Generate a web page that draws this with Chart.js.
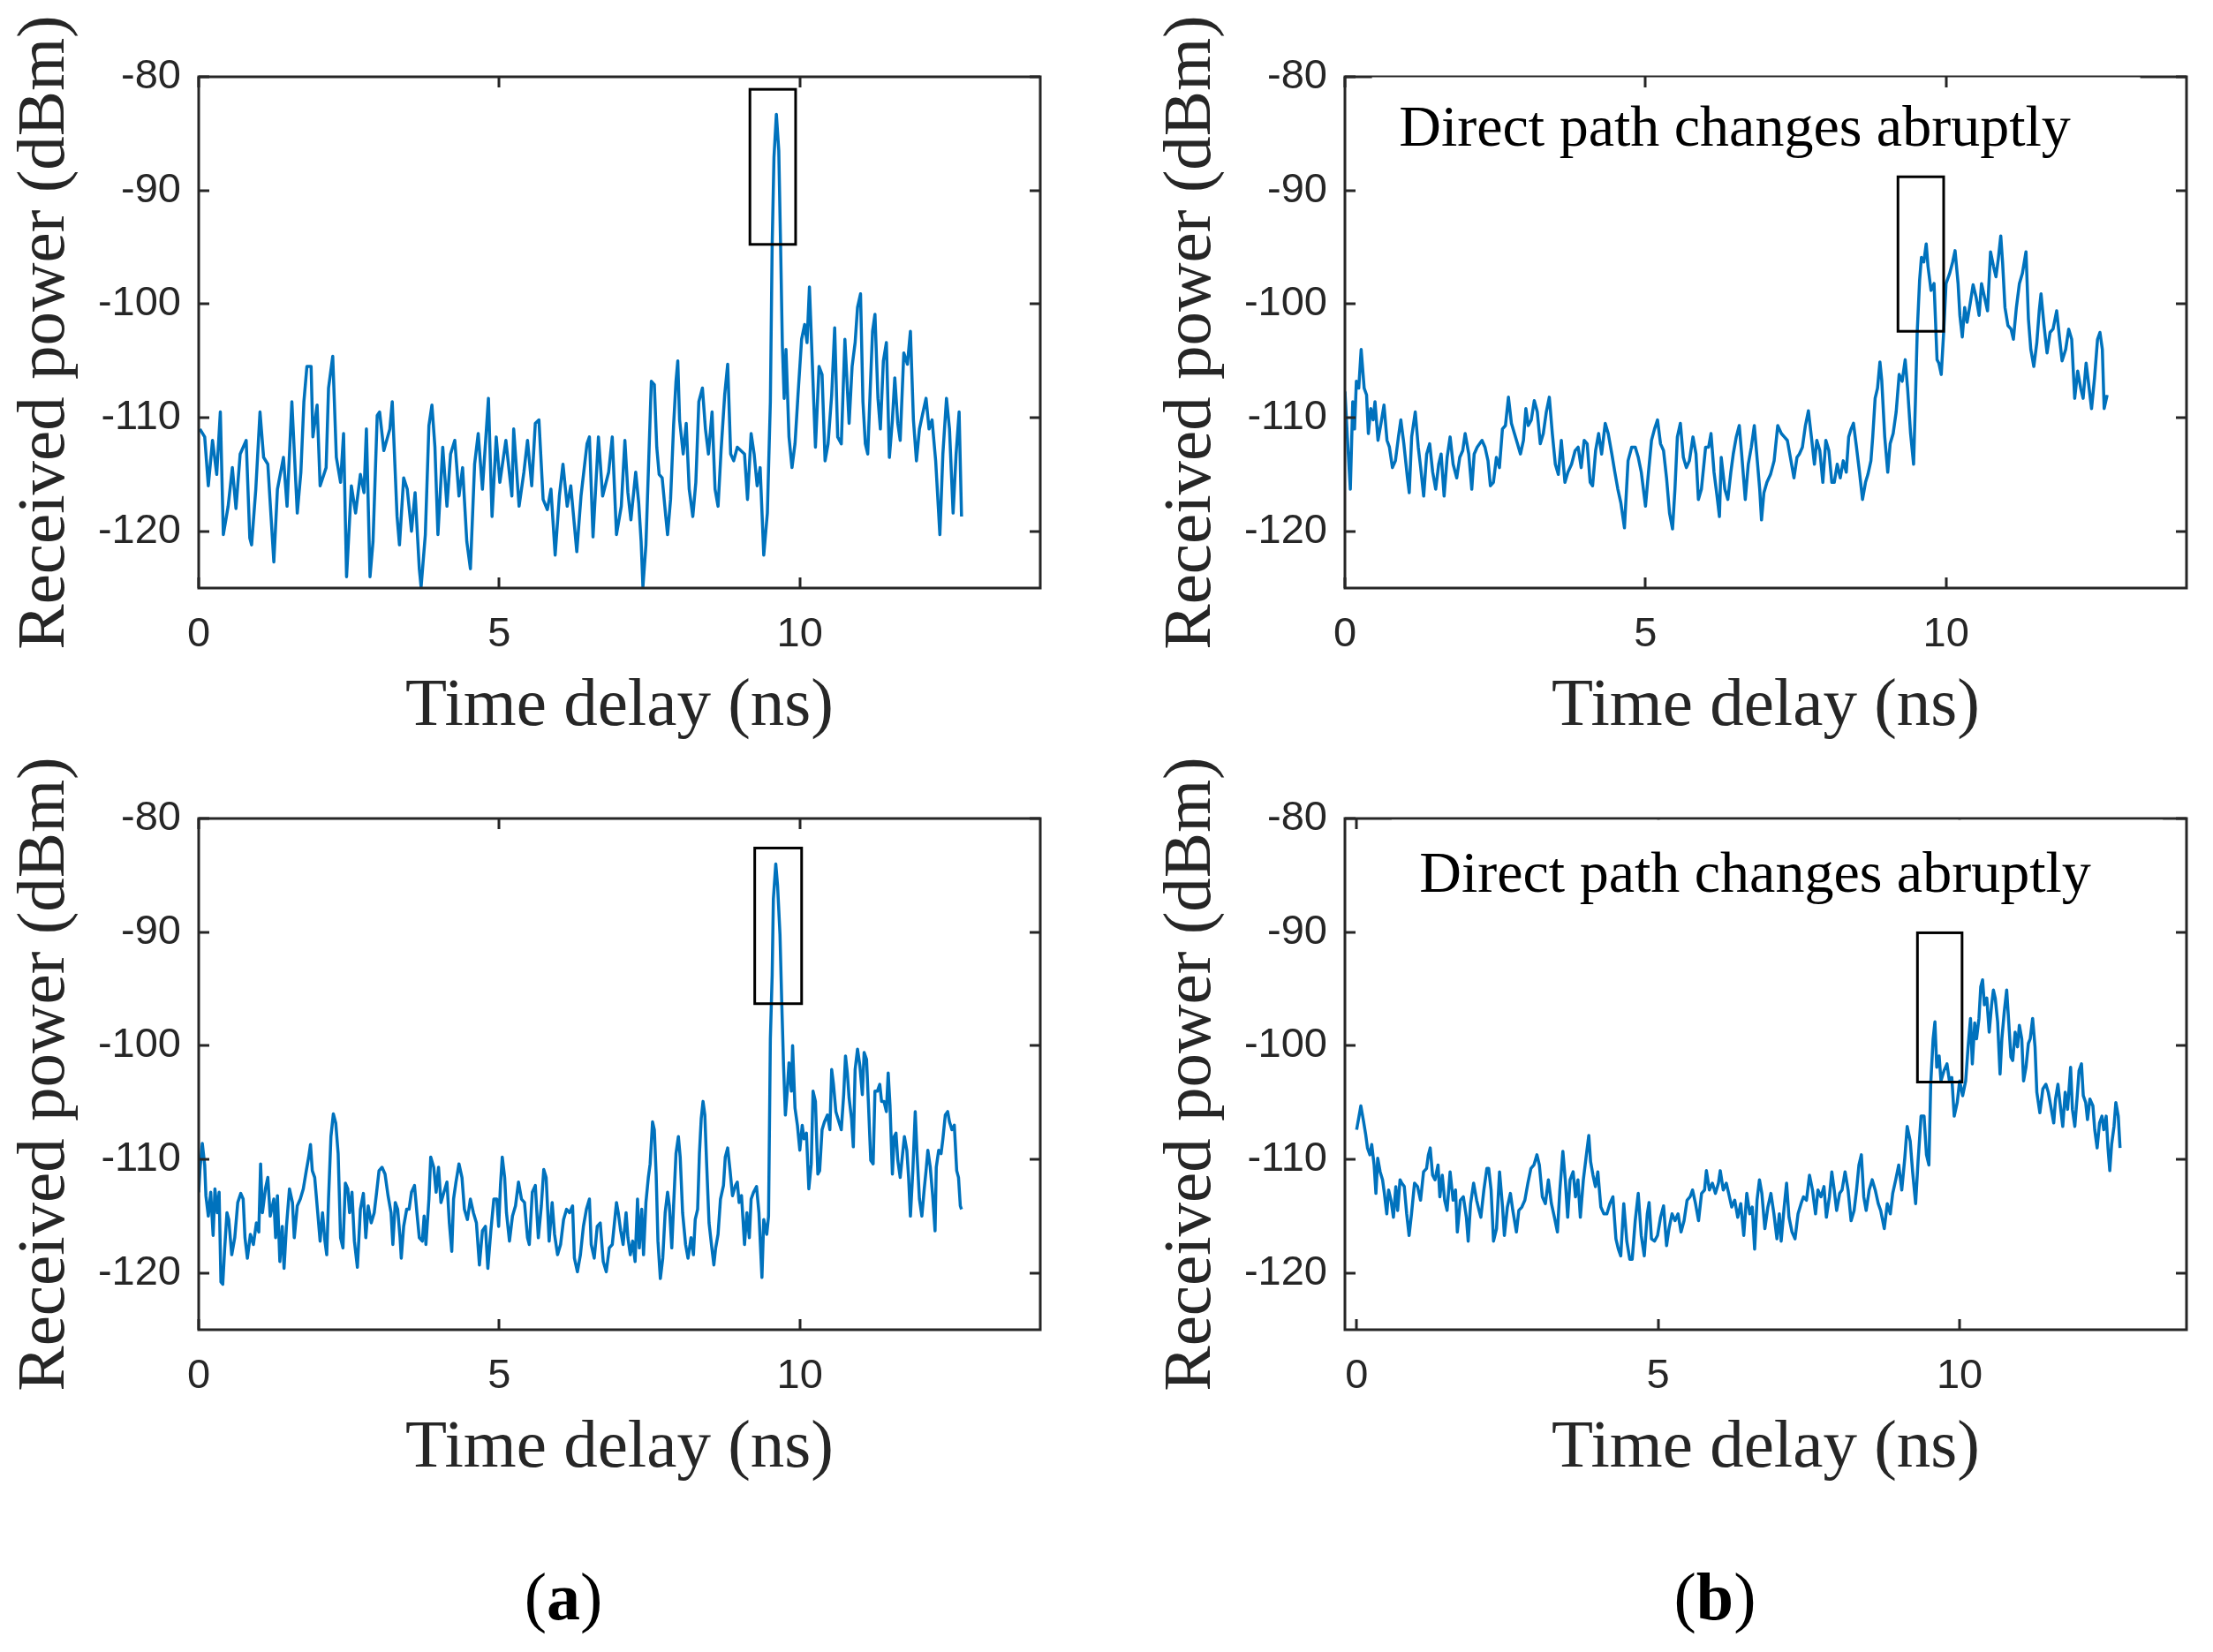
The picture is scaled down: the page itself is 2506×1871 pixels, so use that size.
<!DOCTYPE html>
<html>
<head>
<meta charset="utf-8">
<script src="https://cdn.jsdelivr.net/npm/chart.js@4.4.1/dist/chart.umd.min.js"></script>
<style>
  html, body { margin: 0; padding: 0; background: #fff; }
  body { width: 2506px; height: 1871px; position: relative; overflow: hidden; }
  .panel { position: absolute; width: 1200px; height: 860px; }
  .cap { position: absolute; width: 400px; text-align: center; top: 1770px;
         font-family: 'Liberation Serif', serif; font-size: 76px; line-height: 1; color: #000; }
</style>
</head>
<body>
<div class="panel" style="left:0px;top:0px"><canvas id="cA1" width="1200" height="860"></canvas></div>
<div class="panel" style="left:1298px;top:0px"><canvas id="cB1" width="1200" height="860"></canvas></div>
<div class="panel" style="left:0px;top:840px"><canvas id="cA2" width="1200" height="860"></canvas></div>
<div class="panel" style="left:1298px;top:840px"><canvas id="cB2" width="1200" height="860"></canvas></div>
<div class="cap" style="left:438px">(<b>a</b>)</div>
<div class="cap" style="left:1742px">(<b>b</b>)</div>
<script>
// ---------------- data ----------------
const xTickValues = [0, 5, 10];
const yTickValues = [-120, -110, -100, -90, -80];
const xTitle = 'Time delay (ns)';
const yTitle = 'Received power (dBm)';
const noteText = 'Direct path changes abruptly';

// (a) top: [delay ns, power dBm]
const seriesA1 = [[0.02,-111.0],[0.10,-111.7],[0.16,-116.0],[0.23,-112.0],[0.30,-115.0],[0.36,-109.5],[0.41,-120.3],[0.49,-117.8],[0.56,-114.4],[0.62,-118.0],[0.69,-113.2],[0.79,-112.0],[0.85,-120.6],[0.88,-121.2],[0.95,-116.3],[1.02,-109.5],[1.08,-113.5],[1.15,-114.1],[1.25,-122.7],[1.31,-116.3],[1.41,-113.5],[1.47,-117.8],[1.55,-108.6],[1.64,-118.4],[1.70,-114.8],[1.75,-108.6],[1.80,-105.5],[1.87,-105.5],[1.90,-111.7],[1.97,-108.9],[2.02,-116.0],[2.12,-114.4],[2.16,-107.4],[2.23,-104.6],[2.29,-113.5],[2.36,-115.7],[2.41,-111.4],[2.46,-124.0],[2.54,-116.0],[2.61,-118.4],[2.69,-115.0],[2.75,-116.6],[2.79,-111.0],[2.85,-124.0],[2.90,-120.9],[2.97,-109.8],[3.01,-109.5],[3.08,-112.9],[3.18,-111.0],[3.22,-108.6],[3.30,-118.7],[3.34,-121.2],[3.41,-115.3],[3.47,-116.3],[3.54,-120.0],[3.60,-116.6],[3.67,-123.3],[3.70,-124.9],[3.77,-120.3],[3.83,-110.7],[3.88,-108.9],[3.93,-112.6],[3.98,-120.3],[4.06,-112.6],[4.13,-117.8],[4.19,-113.2],[4.26,-112.0],[4.33,-116.9],[4.39,-114.4],[4.46,-120.9],[4.52,-123.3],[4.59,-114.1],[4.65,-111.4],[4.72,-116.3],[4.82,-108.3],[4.88,-118.7],[4.95,-111.7],[5.01,-115.7],[5.11,-112.0],[5.21,-116.9],[5.24,-111.0],[5.33,-117.8],[5.41,-114.8],[5.47,-112.0],[5.54,-116.0],[5.60,-110.5],[5.66,-110.2],[5.73,-117.2],[5.80,-118.1],[5.86,-116.3],[5.93,-122.1],[6.00,-116.9],[6.06,-114.1],[6.13,-117.8],[6.19,-116.0],[6.29,-121.8],[6.36,-116.9],[6.46,-112.3],[6.50,-111.7],[6.56,-120.5],[6.65,-111.7],[6.72,-116.9],[6.82,-114.8],[6.88,-111.7],[6.95,-120.3],[7.03,-117.8],[7.09,-112.0],[7.14,-116.6],[7.19,-119.0],[7.27,-114.8],[7.32,-117.5],[7.36,-120.9],[7.39,-124.9],[7.44,-121.2],[7.48,-114.8],[7.53,-106.8],[7.58,-107.1],[7.62,-112.6],[7.66,-115.0],[7.71,-115.3],[7.77,-118.7],[7.80,-120.3],[7.85,-117.2],[7.90,-110.7],[7.94,-106.8],[7.97,-105.0],[8.00,-110.2],[8.06,-113.2],[8.11,-110.5],[8.16,-116.3],[8.22,-118.7],[8.27,-115.7],[8.32,-108.6],[8.38,-107.4],[8.43,-111.0],[8.48,-113.2],[8.54,-109.5],[8.59,-116.3],[8.64,-117.8],[8.69,-112.9],[8.75,-108.0],[8.80,-105.3],[8.85,-113.2],[8.90,-113.8],[8.96,-112.6],[9.08,-113.2],[9.13,-117.2],[9.19,-111.4],[9.24,-113.2],[9.29,-116.0],[9.34,-114.4],[9.40,-122.1],[9.46,-118.4],[9.51,-108.6],[9.54,-94.8],[9.57,-87.1],[9.61,-83.3],[9.65,-86.5],[9.68,-94.8],[9.71,-103.7],[9.74,-108.3],[9.77,-104.0],[9.82,-111.7],[9.87,-114.4],[9.92,-112.3],[9.97,-108.0],[10.03,-103.1],[10.08,-101.8],[10.12,-103.4],[10.16,-98.5],[10.21,-105.5],[10.26,-112.6],[10.32,-105.5],[10.37,-106.2],[10.42,-113.8],[10.47,-112.3],[10.53,-108.0],[10.58,-102.1],[10.63,-111.7],[10.69,-112.3],[10.75,-103.1],[10.82,-110.5],[10.87,-105.5],[10.92,-103.4],[10.96,-100.3],[11.01,-99.1],[11.05,-108.6],[11.09,-112.3],[11.13,-113.2],[11.17,-107.7],[11.21,-102.4],[11.25,-100.9],[11.30,-108.3],[11.34,-111.0],[11.39,-105.0],[11.44,-103.4],[11.49,-113.5],[11.54,-110.2],[11.58,-106.5],[11.63,-110.5],[11.67,-112.0],[11.73,-104.3],[11.79,-105.3],[11.84,-102.4],[11.89,-110.2],[11.94,-113.8],[11.99,-111.0],[12.05,-109.5],[12.10,-108.3],[12.15,-111.0],[12.20,-110.2],[12.26,-113.8],[12.33,-120.3],[12.38,-113.2],[12.44,-108.3],[12.49,-111.0],[12.55,-118.4],[12.60,-113.2],[12.65,-109.5],[12.69,-118.7]];

// (b) top
const seriesB1 = [[0.00,-107.7],[0.04,-111.7],[0.09,-116.3],[0.13,-108.6],[0.16,-111.0],[0.19,-106.8],[0.23,-107.4],[0.27,-104.0],[0.32,-107.4],[0.36,-108.0],[0.39,-111.4],[0.43,-109.2],[0.47,-110.2],[0.50,-108.6],[0.55,-112.0],[0.60,-110.5],[0.65,-108.9],[0.70,-112.0],[0.74,-112.6],[0.79,-114.4],[0.84,-113.8],[0.89,-111.7],[0.93,-110.2],[0.98,-112.3],[1.04,-115.3],[1.07,-116.6],[1.11,-111.7],[1.17,-109.5],[1.22,-112.6],[1.26,-114.4],[1.31,-116.9],[1.36,-113.2],[1.41,-112.3],[1.46,-114.8],[1.51,-116.3],[1.56,-114.1],[1.60,-113.2],[1.65,-116.9],[1.70,-113.5],[1.75,-111.7],[1.80,-114.1],[1.86,-115.3],[1.91,-113.5],[1.96,-112.9],[2.00,-111.4],[2.06,-113.2],[2.11,-116.3],[2.15,-113.2],[2.20,-112.6],[2.28,-112.0],[2.33,-112.6],[2.38,-113.8],[2.42,-116.0],[2.47,-115.7],[2.52,-113.5],[2.57,-114.4],[2.62,-111.0],[2.67,-110.7],[2.72,-108.2],[2.77,-110.5],[2.82,-111.4],[2.87,-112.3],[2.92,-113.2],[2.97,-112.0],[3.01,-109.2],[3.05,-110.7],[3.10,-110.2],[3.15,-108.5],[3.20,-109.5],[3.25,-112.3],[3.30,-111.4],[3.35,-109.5],[3.40,-108.2],[3.45,-111.4],[3.50,-114.1],[3.55,-115.0],[3.60,-112.0],[3.66,-115.7],[3.71,-114.8],[3.77,-114.1],[3.83,-112.9],[3.88,-112.6],[3.93,-114.4],[3.98,-112.0],[4.03,-112.3],[4.08,-115.7],[4.12,-116.0],[4.17,-112.9],[4.22,-111.4],[4.27,-113.2],[4.33,-110.5],[4.38,-111.4],[4.44,-113.2],[4.49,-114.8],[4.54,-116.3],[4.59,-117.5],[4.65,-119.7],[4.71,-113.8],[4.77,-112.6],[4.83,-112.6],[4.88,-113.5],[4.93,-114.8],[5.00,-117.8],[5.05,-114.8],[5.10,-112.0],[5.15,-111.0],[5.20,-110.2],[5.25,-112.3],[5.30,-112.9],[5.35,-115.3],[5.40,-118.4],[5.45,-119.8],[5.49,-116.3],[5.53,-111.7],[5.58,-110.5],[5.63,-113.5],[5.68,-114.4],[5.73,-113.8],[5.79,-111.7],[5.84,-113.2],[5.88,-117.2],[5.93,-116.3],[6.00,-112.6],[6.05,-112.6],[6.09,-111.4],[6.14,-114.8],[6.19,-116.9],[6.23,-118.7],[6.26,-113.5],[6.32,-116.3],[6.37,-117.2],[6.42,-114.8],[6.46,-113.2],[6.51,-111.7],[6.56,-110.7],[6.60,-113.2],[6.66,-117.2],[6.71,-114.1],[6.76,-112.6],[6.81,-110.7],[6.86,-113.8],[6.90,-116.3],[6.93,-119.0],[6.97,-116.6],[7.02,-115.7],[7.08,-115.0],[7.14,-113.8],[7.20,-110.7],[7.26,-111.4],[7.31,-111.7],[7.36,-112.0],[7.41,-113.5],[7.47,-115.3],[7.52,-113.5],[7.56,-113.2],[7.61,-112.6],[7.66,-110.7],[7.71,-109.4],[7.76,-111.7],[7.81,-114.1],[7.85,-112.0],[7.90,-112.9],[7.95,-115.7],[8.00,-112.0],[8.05,-112.9],[8.10,-115.7],[8.14,-115.7],[8.19,-114.1],[8.24,-115.3],[8.29,-113.8],[8.34,-114.8],[8.38,-111.7],[8.42,-111.0],[8.46,-110.5],[8.51,-112.6],[8.56,-114.8],[8.61,-117.2],[8.66,-115.7],[8.70,-115.0],[8.75,-113.8],[8.78,-111.7],[8.82,-108.3],[8.86,-107.4],[8.90,-105.1],[8.93,-106.7],[8.98,-111.7],[9.03,-114.8],[9.07,-112.3],[9.12,-111.4],[9.17,-109.5],[9.22,-106.2],[9.27,-106.8],[9.32,-104.9],[9.36,-107.4],[9.41,-111.4],[9.46,-114.1],[9.49,-108.6],[9.52,-102.5],[9.56,-97.9],[9.59,-95.9],[9.63,-96.3],[9.67,-94.7],[9.70,-96.7],[9.75,-98.8],[9.80,-98.2],[9.85,-104.9],[9.88,-105.2],[9.92,-106.2],[9.96,-102.5],[10.00,-98.2],[10.06,-97.3],[10.11,-96.3],[10.15,-95.3],[10.20,-98.2],[10.23,-101.0],[10.27,-102.9],[10.31,-100.3],[10.35,-101.6],[10.40,-100.0],[10.45,-98.3],[10.50,-99.4],[10.55,-101.0],[10.59,-98.2],[10.64,-99.4],[10.69,-100.6],[10.74,-95.4],[10.79,-96.7],[10.83,-97.6],[10.87,-96.0],[10.91,-94.0],[10.94,-96.3],[10.98,-100.3],[11.03,-101.9],[11.08,-102.2],[11.12,-103.1],[11.17,-100.3],[11.22,-98.2],[11.27,-97.3],[11.33,-95.4],[11.37,-101.3],[11.41,-104.0],[11.46,-105.5],[11.51,-103.4],[11.55,-100.6],[11.58,-99.1],[11.63,-101.9],[11.68,-104.3],[11.73,-102.5],[11.78,-102.2],[11.84,-100.6],[11.89,-103.1],[11.93,-105.0],[11.99,-104.0],[12.04,-102.2],[12.09,-103.1],[12.14,-108.3],[12.19,-105.9],[12.24,-107.4],[12.28,-108.3],[12.33,-105.2],[12.38,-107.4],[12.42,-109.2],[12.47,-106.5],[12.52,-103.1],[12.56,-102.5],[12.60,-104.0],[12.63,-109.2],[12.68,-108.0]];

// (a) bottom
const seriesA2 = [[0.00,-112.9],[0.02,-111.0],[0.06,-108.6],[0.10,-110.5],[0.12,-113.2],[0.16,-115.0],[0.20,-112.9],[0.24,-116.7],[0.27,-112.6],[0.31,-114.7],[0.34,-112.9],[0.37,-120.8],[0.40,-121.0],[0.43,-118.1],[0.47,-114.7],[0.50,-115.3],[0.55,-118.4],[0.60,-116.9],[0.65,-113.8],[0.70,-113.0],[0.74,-113.5],[0.77,-116.9],[0.81,-118.7],[0.86,-116.6],[0.91,-117.5],[0.96,-115.6],[1.00,-116.4],[1.03,-110.4],[1.06,-114.7],[1.11,-112.6],[1.15,-111.6],[1.19,-115.0],[1.25,-113.5],[1.28,-116.9],[1.31,-113.2],[1.35,-119.0],[1.39,-115.9],[1.42,-119.6],[1.46,-115.9],[1.51,-112.6],[1.56,-113.8],[1.59,-116.9],[1.64,-114.1],[1.69,-113.5],[1.74,-112.6],[1.79,-111.0],[1.83,-109.8],[1.86,-108.7],[1.89,-111.0],[1.93,-111.6],[1.98,-114.7],[2.02,-117.2],[2.06,-114.7],[2.10,-117.2],[2.13,-118.4],[2.16,-113.5],[2.20,-108.0],[2.24,-106.0],[2.28,-106.8],[2.32,-109.5],[2.36,-116.9],[2.40,-117.8],[2.44,-112.1],[2.48,-112.6],[2.51,-114.7],[2.55,-112.9],[2.59,-117.2],[2.64,-119.5],[2.69,-114.4],[2.74,-113.0],[2.78,-116.9],[2.82,-114.1],[2.87,-115.6],[2.92,-114.7],[2.96,-112.9],[3.00,-111.0],[3.05,-110.7],[3.10,-111.3],[3.15,-113.2],[3.20,-114.7],[3.23,-117.5],[3.27,-113.8],[3.31,-114.4],[3.35,-116.9],[3.37,-118.7],[3.41,-115.9],[3.46,-114.4],[3.50,-114.4],[3.54,-112.9],[3.59,-112.3],[3.63,-114.7],[3.67,-116.9],[3.72,-117.2],[3.75,-115.0],[3.78,-117.5],[3.83,-113.5],[3.86,-109.8],[3.91,-110.7],[3.95,-112.9],[3.99,-110.7],[4.03,-113.8],[4.08,-112.9],[4.13,-112.0],[4.17,-115.6],[4.21,-118.1],[4.24,-113.5],[4.28,-112.0],[4.33,-110.4],[4.38,-111.6],[4.42,-114.4],[4.47,-115.3],[4.52,-113.5],[4.57,-114.7],[4.62,-115.6],[4.67,-119.3],[4.72,-116.3],[4.77,-115.9],[4.81,-119.6],[4.86,-116.3],[4.91,-113.5],[4.96,-113.5],[4.99,-115.9],[5.02,-112.3],[5.05,-109.8],[5.09,-111.6],[5.12,-114.7],[5.17,-117.2],[5.22,-115.0],[5.27,-114.1],[5.32,-112.0],[5.37,-113.5],[5.42,-113.8],[5.47,-116.9],[5.50,-117.5],[5.55,-112.9],[5.60,-112.3],[5.65,-116.9],[5.70,-114.1],[5.74,-110.9],[5.78,-111.6],[5.83,-117.2],[5.88,-113.8],[5.92,-116.6],[5.97,-118.4],[6.02,-117.5],[6.07,-115.3],[6.12,-114.4],[6.17,-114.7],[6.22,-114.1],[6.25,-118.7],[6.30,-119.9],[6.35,-118.4],[6.40,-115.9],[6.45,-114.4],[6.50,-113.5],[6.53,-117.5],[6.58,-118.7],[6.63,-115.9],[6.68,-115.6],[6.73,-119.0],[6.78,-119.9],[6.83,-117.8],[6.88,-117.5],[6.95,-113.8],[6.98,-114.7],[7.02,-116.3],[7.06,-117.5],[7.11,-114.7],[7.14,-116.9],[7.18,-118.4],[7.22,-117.2],[7.26,-119.0],[7.30,-113.5],[7.33,-117.8],[7.37,-114.4],[7.40,-118.4],[7.44,-113.8],[7.48,-111.6],[7.51,-110.4],[7.55,-106.7],[7.58,-107.4],[7.61,-111.3],[7.64,-117.2],[7.68,-120.5],[7.72,-118.7],[7.76,-114.7],[7.80,-112.9],[7.83,-114.1],[7.87,-117.8],[7.90,-114.1],[7.94,-109.5],[7.98,-108.0],[8.01,-109.8],[8.05,-114.7],[8.10,-117.5],[8.14,-118.7],[8.19,-116.9],[8.23,-118.4],[8.26,-115.3],[8.30,-114.4],[8.33,-109.5],[8.36,-106.4],[8.39,-104.9],[8.42,-106.1],[8.45,-110.4],[8.49,-115.6],[8.53,-117.5],[8.57,-119.3],[8.60,-117.8],[8.64,-116.6],[8.68,-113.5],[8.73,-112.3],[8.76,-109.8],[8.80,-109.0],[8.84,-111.0],[8.88,-113.2],[8.93,-112.3],[8.96,-112.0],[8.99,-113.8],[9.03,-113.2],[9.08,-117.5],[9.12,-114.7],[9.16,-116.9],[9.19,-113.5],[9.23,-112.9],[9.28,-112.4],[9.32,-114.7],[9.37,-120.4],[9.40,-115.3],[9.45,-116.6],[9.48,-115.0],[9.51,-99.4],[9.54,-93.8],[9.56,-87.1],[9.60,-84.0],[9.63,-85.9],[9.67,-90.2],[9.70,-96.3],[9.73,-101.8],[9.76,-106.1],[9.79,-104.0],[9.82,-101.5],[9.86,-104.0],[9.88,-100.0],[9.92,-105.5],[9.96,-107.0],[10.00,-109.2],[10.04,-107.0],[10.07,-108.2],[10.11,-107.7],[10.15,-112.6],[10.19,-110.4],[10.22,-104.0],[10.26,-104.9],[10.30,-111.3],[10.33,-111.0],[10.37,-107.4],[10.41,-106.7],[10.46,-106.1],[10.50,-107.4],[10.53,-102.1],[10.56,-103.4],[10.60,-105.8],[10.65,-106.7],[10.69,-107.4],[10.73,-104.3],[10.76,-100.9],[10.79,-102.4],[10.82,-104.6],[10.86,-106.4],[10.89,-108.9],[10.92,-102.1],[10.96,-100.3],[11.00,-101.8],[11.04,-104.3],[11.07,-100.6],[11.11,-101.2],[11.14,-104.9],[11.18,-110.1],[11.22,-110.4],[11.25,-104.0],[11.29,-104.0],[11.33,-103.4],[11.36,-104.9],[11.40,-104.9],[11.44,-105.8],[11.47,-102.4],[11.50,-105.2],[11.54,-111.3],[11.57,-108.0],[11.60,-107.7],[11.63,-110.1],[11.67,-111.6],[11.71,-109.5],[11.74,-108.0],[11.78,-109.2],[11.81,-111.6],[11.84,-115.0],[11.88,-111.0],[11.92,-105.8],[11.95,-109.5],[11.99,-113.5],[12.03,-115.0],[12.07,-112.6],[12.10,-111.0],[12.13,-109.2],[12.17,-110.7],[12.21,-113.2],[12.25,-116.3],[12.27,-110.7],[12.31,-109.2],[12.35,-109.5],[12.38,-108.2],[12.42,-106.1],[12.46,-105.8],[12.49,-106.7],[12.53,-107.4],[12.57,-107.0],[12.61,-111.0],[12.64,-111.6],[12.67,-114.1],[12.69,-114.4]];

// (b) bottom
const seriesB2 = [[0.00,-107.4],[0.04,-106.2],[0.07,-105.3],[0.11,-106.5],[0.15,-107.8],[0.18,-109.0],[0.22,-109.6],[0.25,-108.7],[0.29,-110.5],[0.32,-113.0],[0.35,-109.9],[0.39,-111.1],[0.43,-111.8],[0.46,-113.0],[0.50,-114.8],[0.53,-112.7],[0.57,-113.6],[0.61,-115.1],[0.65,-112.4],[0.68,-114.5],[0.72,-111.8],[0.75,-112.1],[0.79,-112.4],[0.83,-114.8],[0.87,-116.7],[0.91,-114.8],[0.96,-112.1],[1.01,-112.4],[1.06,-113.6],[1.11,-111.1],[1.16,-110.8],[1.19,-109.6],[1.22,-109.0],[1.26,-111.4],[1.30,-111.8],[1.35,-110.5],[1.38,-113.3],[1.42,-111.4],[1.46,-113.6],[1.50,-114.5],[1.55,-111.1],[1.60,-113.6],[1.64,-112.7],[1.67,-116.4],[1.72,-113.6],[1.77,-113.3],[1.82,-115.1],[1.85,-117.2],[1.89,-113.9],[1.94,-112.1],[1.99,-113.6],[2.03,-114.5],[2.06,-115.1],[2.11,-112.7],[2.16,-110.8],[2.19,-110.8],[2.23,-112.7],[2.27,-117.2],[2.32,-116.1],[2.37,-111.1],[2.42,-114.2],[2.45,-116.7],[2.50,-114.2],[2.55,-113.0],[2.59,-114.5],[2.65,-116.4],[2.69,-114.5],[2.74,-114.2],[2.79,-113.6],[2.84,-112.1],[2.89,-110.8],[2.94,-110.5],[2.99,-109.6],[3.03,-110.5],[3.08,-113.3],[3.13,-113.9],[3.18,-111.8],[3.23,-113.9],[3.28,-115.1],[3.33,-116.4],[3.37,-112.7],[3.42,-109.3],[3.46,-111.8],[3.50,-115.1],[3.54,-111.8],[3.59,-111.1],[3.63,-113.3],[3.67,-111.8],[3.71,-115.1],[3.76,-111.8],[3.81,-109.6],[3.85,-107.9],[3.88,-110.2],[3.92,-111.4],[3.96,-112.4],[4.00,-111.1],[4.05,-114.2],[4.10,-114.8],[4.15,-114.8],[4.20,-113.9],[4.25,-113.3],[4.30,-117.0],[4.34,-117.9],[4.38,-118.5],[4.43,-113.9],[4.48,-117.2],[4.53,-118.8],[4.57,-118.8],[4.62,-115.4],[4.67,-113.0],[4.72,-116.7],[4.77,-118.5],[4.82,-114.8],[4.85,-113.8],[4.89,-117.0],[4.94,-117.2],[4.99,-116.7],[5.04,-115.1],[5.09,-114.1],[5.14,-117.6],[5.18,-116.1],[5.23,-114.8],[5.28,-115.4],[5.33,-114.8],[5.38,-116.4],[5.43,-115.4],[5.48,-113.6],[5.53,-113.3],[5.57,-112.7],[5.62,-113.9],[5.67,-115.4],[5.72,-113.0],[5.77,-112.7],[5.80,-111.0],[5.85,-112.7],[5.90,-112.1],[5.95,-113.0],[6.00,-112.1],[6.03,-111.0],[6.08,-112.7],[6.13,-112.1],[6.17,-113.0],[6.22,-114.2],[6.27,-113.6],[6.32,-115.1],[6.37,-113.9],[6.42,-116.7],[6.47,-113.0],[6.52,-114.8],[6.56,-114.2],[6.60,-117.9],[6.64,-113.6],[6.68,-111.8],[6.72,-113.0],[6.77,-116.1],[6.82,-114.2],[6.87,-113.0],[6.92,-114.8],[6.97,-117.0],[7.01,-114.8],[7.04,-117.2],[7.09,-114.2],[7.13,-112.1],[7.17,-115.1],[7.22,-116.4],[7.27,-117.0],[7.32,-114.8],[7.37,-113.9],[7.41,-113.3],[7.46,-113.6],[7.51,-111.4],[7.56,-112.7],[7.61,-114.8],[7.65,-112.7],[7.70,-113.3],[7.75,-112.4],[7.79,-115.1],[7.84,-113.3],[7.88,-111.1],[7.92,-112.7],[7.96,-114.5],[8.01,-113.0],[8.05,-112.7],[8.10,-111.1],[8.15,-112.7],[8.20,-115.4],[8.25,-114.5],[8.29,-112.7],[8.33,-110.5],[8.37,-109.6],[8.41,-113.3],[8.45,-114.5],[8.50,-112.7],[8.55,-111.8],[8.60,-112.7],[8.65,-113.9],[8.69,-114.5],[8.75,-116.1],[8.80,-113.9],[8.85,-114.8],[8.89,-113.0],[8.94,-111.8],[8.99,-110.5],[9.04,-112.7],[9.09,-109.9],[9.13,-107.1],[9.18,-108.4],[9.22,-111.1],[9.27,-113.9],[9.31,-110.2],[9.36,-106.2],[9.41,-106.2],[9.45,-109.6],[9.49,-110.5],[9.52,-103.4],[9.56,-99.4],[9.59,-97.9],[9.62,-101.9],[9.66,-100.9],[9.69,-103.1],[9.74,-102.2],[9.79,-101.6],[9.83,-103.1],[9.87,-102.8],[9.91,-106.2],[9.96,-105.0],[10.00,-103.1],[10.05,-104.4],[10.10,-103.1],[10.14,-100.1],[10.18,-97.6],[10.21,-101.6],[10.25,-98.0],[10.28,-99.4],[10.32,-97.6],[10.35,-94.8],[10.38,-94.2],[10.41,-96.4],[10.45,-95.8],[10.49,-98.8],[10.53,-96.4],[10.56,-95.1],[10.59,-95.8],[10.63,-97.9],[10.67,-102.5],[10.70,-99.4],[10.74,-97.0],[10.78,-95.1],[10.81,-97.6],[10.85,-101.0],[10.88,-101.3],[10.92,-98.8],[10.96,-100.1],[10.99,-98.2],[11.03,-99.4],[11.06,-103.1],[11.10,-101.9],[11.14,-99.8],[11.17,-99.4],[11.21,-97.6],[11.25,-100.1],[11.28,-104.1],[11.33,-105.9],[11.38,-103.8],[11.43,-103.4],[11.47,-104.1],[11.52,-105.6],[11.56,-106.8],[11.59,-104.7],[11.63,-103.4],[11.67,-105.3],[11.71,-107.1],[11.75,-104.1],[11.79,-105.6],[11.84,-101.9],[11.87,-105.6],[11.91,-107.1],[11.95,-104.4],[11.98,-102.2],[12.02,-101.6],[12.05,-104.4],[12.09,-105.0],[12.12,-106.5],[12.16,-104.7],[12.21,-105.3],[12.24,-107.4],[12.28,-109.0],[12.32,-106.8],[12.36,-106.2],[12.39,-107.4],[12.43,-106.2],[12.46,-109.0],[12.49,-111.0],[12.52,-108.7],[12.56,-107.1],[12.59,-105.0],[12.63,-106.2],[12.66,-109.0]];

// highlight boxes around the direct path: [x from, x to, y top, y bottom]
const boxA1 = [9.17, 9.93, -81.1, -94.75];
const boxB1 = [9.20, 9.96, -88.8, -102.4];
const boxA2 = [9.25, 10.03, -82.6, -96.3];
const boxB2 = [9.30, 10.04, -90.06, -103.2];

// x-axis ranges
const xRangeStd = [0, 14];
const xRangeB2 = [-0.194, 13.762];
const yRange = [-125, -80];

// ---------------- drawing ----------------
const AX = '#262626';
const framePlugin = {
  id: 'frame',
  afterDraw(chart, args, opts) {
    const { ctx, chartArea: a } = chart;
    const x = chart.scales.x, y = chart.scales.y;
    ctx.save();
    // highlight rectangle
    const b = opts.box;
    const bx0 = x.getPixelForValue(b[0]), bx1 = x.getPixelForValue(b[1]);
    const by0 = y.getPixelForValue(b[2]), by1 = y.getPixelForValue(b[3]);
    ctx.strokeStyle = '#000';
    ctx.lineWidth = 3;
    ctx.strokeRect(bx0, by0, bx1 - bx0, by1 - by0);
    // frame
    ctx.strokeStyle = AX;
    ctx.lineWidth = 3;
    ctx.strokeRect(a.left, a.top, a.right - a.left, a.bottom - a.top);

    const note = opts.note;
    const drawNoteBox = () => {
      const nx0 = x.getPixelForValue(note.from), nx1 = x.getPixelForValue(note.to);
      const base = y.getPixelForValue(note.y);
      ctx.fillStyle = '#fff';
      ctx.fillRect(nx0, a.top + note.inset, nx1 - nx0, base + 24 - (a.top + note.inset));
    };
    if (note && !note.coverTicks) drawNoteBox();
    // inward ticks on all four sides
    ctx.strokeStyle = AX;
    ctx.lineWidth = 3;
    ctx.beginPath();
    x.ticks.forEach(t => {
      const p = Math.round(x.getPixelForValue(t.value));
      ctx.moveTo(p, a.bottom); ctx.lineTo(p, a.bottom - 12);
      ctx.moveTo(p, a.top); ctx.lineTo(p, a.top + 12);
    });
    y.ticks.forEach(t => {
      const p = Math.round(y.getPixelForValue(t.value));
      ctx.moveTo(a.left, p); ctx.lineTo(a.left + 12, p);
      ctx.moveTo(a.right, p); ctx.lineTo(a.right - 12, p);
    });
    ctx.stroke();
    if (note && note.coverTicks) drawNoteBox();
    if (note) {
      ctx.fillStyle = '#000';
      ctx.font = '66px "Liberation Serif"';
      ctx.textAlign = 'left';
      ctx.textBaseline = 'alphabetic';
      ctx.fillText(note.text, x.getPixelForValue(note.x), y.getPixelForValue(note.y));
    }
    ctx.restore();
  }
};

function makeChart(id, series, box, xRange, note) {
  return new Chart(document.getElementById(id), {
    type: 'line',
    data: {
      datasets: [{
        data: series.map(p => ({ x: p[0], y: p[1] })),
        borderColor: '#0072BD',
        borderWidth: 3.5,
        pointRadius: 0,
        tension: 0,
        fill: false,
        borderJoinStyle: 'round'
      }]
    },
    options: {
      responsive: false,
      animation: false,
      devicePixelRatio: 1,
      events: [],
      layout: { padding: { top: 87, right: 22, bottom: 0, left: 0 } },
      plugins: {
        legend: { display: false },
        tooltip: { enabled: false },
        frame: { box: box, note: note }
      },
      scales: {
        x: {
          type: 'linear',
          min: xRange[0], max: xRange[1],
          afterBuildTicks: s => { s.ticks = xTickValues.map(v => ({ value: v })); },
          afterFit: s => { s.height = 194; },
          grid: { display: false, drawTicks: false },
          border: { display: false },
          ticks: { color: AX, font: { family: 'Liberation Sans', size: 47, lineHeight: 1 }, padding: 30, maxRotation: 0, autoSkip: false },
          title: { display: true, text: xTitle, color: AX, font: { family: 'Liberation Serif', size: 77, lineHeight: 1 }, padding: { top: 0, bottom: 21 } }
        },
        y: {
          type: 'linear',
          min: yRange[0], max: yRange[1],
          afterBuildTicks: s => { s.ticks = yTickValues.map(v => ({ value: v })); },
          afterFit: s => { s.width = 225; },
          grid: { display: false, drawTicks: false },
          border: { display: false },
          ticks: { color: AX, font: { family: 'Liberation Sans', size: 47, lineHeight: 1 }, padding: 20 },
          title: { display: true, text: yTitle, color: AX, font: { family: 'Liberation Serif', size: 77, lineHeight: 1 }, padding: { top: 13, bottom: 0 } }
        }
      }
    },
    plugins: [framePlugin]
  });
}

makeChart('cA1', seriesA1, boxA1, xRangeStd, null);
makeChart('cB1', seriesB1, boxB1, xRangeStd,
  { text: noteText, x: 0.90, y: -86.1, from: 0.45, to: 13.23, inset: 0.5, coverTicks: false });
makeChart('cA2', seriesA2, boxA2, xRangeStd, null);
makeChart('cB2', seriesB2, boxB2, xRangeB2,
  { text: noteText, x: 1.04, y: -86.44, from: 0.58, to: 13.37, inset: 1.5, coverTicks: true });
</script>
</body>
</html>
